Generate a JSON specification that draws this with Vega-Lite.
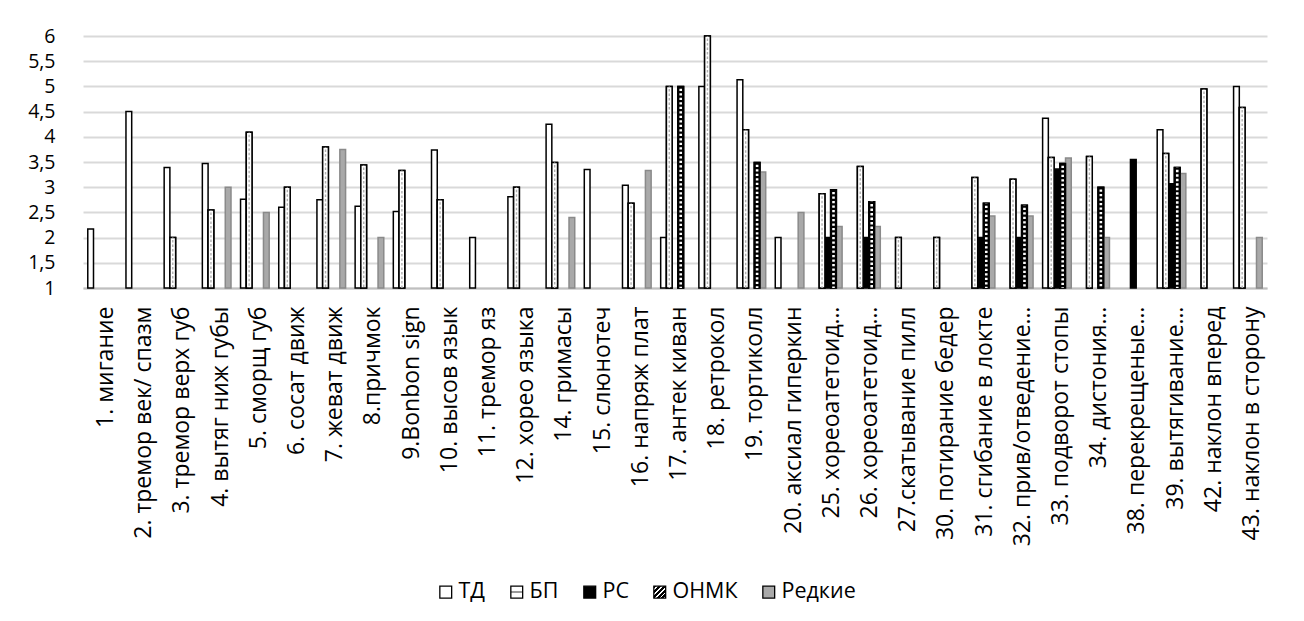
{
  "$schema": "https://vega.github.io/schema/vega-lite/v6.json",
  "width": 1184,
  "height": 252,
  "autosize": {"type": "none"},
  "padding": {"left": 83, "top": 36, "right": 37, "bottom": 333},
  "background": "#ffffff",
  "data": {
    "values": [
      {"cat": "1. мигание", "series": "ТД", "value": 2.17},
      {"cat": "2. тремор век/ спазм", "series": "ТД", "value": 4.5},
      {"cat": "3. тремор верх губ", "series": "ТД", "value": 3.39},
      {"cat": "3. тремор верх губ", "series": "БП", "value": 2.0},
      {"cat": "4. вытяг ниж губы", "series": "ТД", "value": 3.47},
      {"cat": "4. вытяг ниж губы", "series": "БП", "value": 2.55},
      {"cat": "4. вытяг ниж губы", "series": "Редкие", "value": 3.0},
      {"cat": "5. сморщ губ", "series": "ТД", "value": 2.76},
      {"cat": "5. сморщ губ", "series": "БП", "value": 4.09},
      {"cat": "5. сморщ губ", "series": "Редкие", "value": 2.5},
      {"cat": "6. сосат движ", "series": "ТД", "value": 2.6},
      {"cat": "6. сосат движ", "series": "БП", "value": 3.0},
      {"cat": "7. жеват движ", "series": "ТД", "value": 2.75},
      {"cat": "7. жеват движ", "series": "БП", "value": 3.8},
      {"cat": "7. жеват движ", "series": "Редкие", "value": 3.75},
      {"cat": "8.причмок", "series": "ТД", "value": 2.62},
      {"cat": "8.причмок", "series": "БП", "value": 3.44},
      {"cat": "8.причмок", "series": "Редкие", "value": 2.0},
      {"cat": "9.Bonbon sign", "series": "ТД", "value": 2.52},
      {"cat": "9.Bonbon sign", "series": "БП", "value": 3.33},
      {"cat": "10. высов язык", "series": "ТД", "value": 3.74},
      {"cat": "10. высов язык", "series": "БП", "value": 2.75},
      {"cat": "11. тремор яз", "series": "ТД", "value": 2.0},
      {"cat": "12. хорео языка", "series": "ТД", "value": 2.81},
      {"cat": "12. хорео языка", "series": "БП", "value": 3.0},
      {"cat": "14. гримасы", "series": "ТД", "value": 4.25},
      {"cat": "14. гримасы", "series": "БП", "value": 3.49},
      {"cat": "14. гримасы", "series": "Редкие", "value": 2.4},
      {"cat": "15. слюнотеч", "series": "ТД", "value": 3.35},
      {"cat": "16. напряж плат", "series": "ТД", "value": 3.04},
      {"cat": "16. напряж плат", "series": "БП", "value": 2.68},
      {"cat": "16. напряж плат", "series": "Редкие", "value": 3.33},
      {"cat": "17. антек киван", "series": "ТД", "value": 2.0},
      {"cat": "17. антек киван", "series": "БП", "value": 5.0},
      {"cat": "17. антек киван", "series": "ОНМК", "value": 5.0},
      {"cat": "18. ретрокол", "series": "ТД", "value": 5.0},
      {"cat": "18. ретрокол", "series": "БП", "value": 6.0},
      {"cat": "19. тортиколл", "series": "ТД", "value": 5.13},
      {"cat": "19. тортиколл", "series": "БП", "value": 4.14},
      {"cat": "19. тортиколл", "series": "ОНМК", "value": 3.49},
      {"cat": "19. тортиколл", "series": "Редкие", "value": 3.3},
      {"cat": "20. аксиал гиперкин", "series": "ТД", "value": 2.0},
      {"cat": "20. аксиал гиперкин", "series": "Редкие", "value": 2.5},
      {"cat": "25. хореоатетоид…", "series": "БП", "value": 2.87},
      {"cat": "25. хореоатетоид…", "series": "РС", "value": 2.0},
      {"cat": "25. хореоатетоид…", "series": "ОНМК", "value": 2.95},
      {"cat": "25. хореоатетоид…", "series": "Редкие", "value": 2.22},
      {"cat": "26. хореоатетоид…", "series": "БП", "value": 3.41},
      {"cat": "26. хореоатетоид…", "series": "РС", "value": 2.0},
      {"cat": "26. хореоатетоид…", "series": "ОНМК", "value": 2.71},
      {"cat": "26. хореоатетоид…", "series": "Редкие", "value": 2.22},
      {"cat": "27.скатывание пилл", "series": "БП", "value": 2.0},
      {"cat": "30. потирание бедер", "series": "БП", "value": 2.0},
      {"cat": "31. сгибание в локте", "series": "БП", "value": 3.19},
      {"cat": "31. сгибание в локте", "series": "РС", "value": 2.0},
      {"cat": "31. сгибание в локте", "series": "ОНМК", "value": 2.68},
      {"cat": "31. сгибание в локте", "series": "Редкие", "value": 2.43},
      {"cat": "32. прив/отведение…", "series": "БП", "value": 3.16},
      {"cat": "32. прив/отведение…", "series": "РС", "value": 2.0},
      {"cat": "32. прив/отведение…", "series": "ОНМК", "value": 2.64},
      {"cat": "32. прив/отведение…", "series": "Редкие", "value": 2.43},
      {"cat": "33. подворот стопы", "series": "ТД", "value": 4.37},
      {"cat": "33. подворот стопы", "series": "БП", "value": 3.59},
      {"cat": "33. подворот стопы", "series": "РС", "value": 3.36},
      {"cat": "33. подворот стопы", "series": "ОНМК", "value": 3.47},
      {"cat": "33. подворот стопы", "series": "Редкие", "value": 3.58},
      {"cat": "34. дистония…", "series": "БП", "value": 3.61},
      {"cat": "34. дистония…", "series": "ОНМК", "value": 3.0},
      {"cat": "34. дистония…", "series": "Редкие", "value": 2.0},
      {"cat": "38. перекрещеные…", "series": "РС", "value": 3.55},
      {"cat": "39. вытягивание…", "series": "ТД", "value": 4.14},
      {"cat": "39. вытягивание…", "series": "БП", "value": 3.67},
      {"cat": "39. вытягивание…", "series": "РС", "value": 3.07},
      {"cat": "39. вытягивание…", "series": "ОНМК", "value": 3.39},
      {"cat": "39. вытягивание…", "series": "Редкие", "value": 3.27},
      {"cat": "42. наклон вперед", "series": "БП", "value": 4.95},
      {"cat": "43. наклон в сторону", "series": "ТД", "value": 5.0},
      {"cat": "43. наклон в сторону", "series": "БП", "value": 4.58},
      {"cat": "43. наклон в сторону", "series": "Редкие", "value": 2.0}
    ]
  },
  "encoding": {
    "x": {
      "field": "cat",
      "type": "nominal",
      "sort": null,
      "title": null,
      "scale": {"paddingInner": 0.25, "paddingOuter": 0.125},
      "axis": {
        "labelAngle": -90,
        "labelAlign": "right",
        "labelBaseline": "middle",
        "labelPadding": 18,
        "labelOffset": 4,
        "labelFont": "Open Sans",
        "labelFontSize": 23,
        "labelColor": "#000000",
        "labelLimit": 500,
        "ticks": false,
        "grid": false,
        "domainColor": "#bfbfbf",
        "domainWidth": 2
      }
    },
    "xOffset": {
      "field": "series",
      "type": "nominal",
      "scale": {"domain": ["ТД", "БП", "РС", "ОНМК", "Редкие"], "paddingInner": 0, "paddingOuter": 0}
    },
    "y": {
      "field": "value",
      "type": "quantitative",
      "title": null,
      "scale": {"domain": [1, 6], "zero": false, "nice": false},
      "axis": {
        "values": [1, 1.5, 2, 2.5, 3, 3.5, 4, 4.5, 5, 5.5, 6],
        "labelExpr": "replace(toString(datum.value), '.', ',')",
        "domain": false,
        "ticks": false,
        "gridColor": "#d9d9d9",
        "gridWidth": 2,
        "labelPadding": 28,
        "labelFont": "Open Sans",
        "labelFontSize": 19.5,
        "labelColor": "#000000"
      }
    },
    "y2": {"datum": 1}
  },
  "layer": [
    {
      "mark": {"type": "bar", "strokeWidth": 1.5},
      "encoding": {
        "color": {
          "field": "series",
          "type": "nominal",
          "scale": {
            "domain": ["ТД", "БП", "РС", "ОНМК", "Редкие"],
            "range": [
              "#ffffff",
              {"expr": "{gradient: 'linear', x1: 0, y1: 0, x2: 0, y2: 1, stops: [{offset: 0, color: '#ffffff'}, {offset: 0.42, color: '#ffffff'}, {offset: 0.42, color: '#9a9a9a'}, {offset: 0.58, color: '#9a9a9a'}, {offset: 0.58, color: '#ffffff'}, {offset: 1, color: '#ffffff'}]}"},
              "#000000",
              {"expr": "{gradient: 'linear', x1: 0, y1: 0, x2: 1, y2: 1, stops: [{offset: 0, color: '#000000'}, {offset: 0.12, color: '#000000'}, {offset: 0.12, color: '#ffffff'}, {offset: 0.2, color: '#ffffff'}, {offset: 0.2, color: '#000000'}, {offset: 0.32, color: '#000000'}, {offset: 0.32, color: '#ffffff'}, {offset: 0.4, color: '#ffffff'}, {offset: 0.4, color: '#000000'}, {offset: 0.52, color: '#000000'}, {offset: 0.52, color: '#ffffff'}, {offset: 0.6, color: '#ffffff'}, {offset: 0.6, color: '#000000'}, {offset: 0.72, color: '#000000'}, {offset: 0.72, color: '#ffffff'}, {offset: 0.8, color: '#ffffff'}, {offset: 0.8, color: '#000000'}, {offset: 0.92, color: '#000000'}, {offset: 0.92, color: '#ffffff'}, {offset: 1, color: '#ffffff'}]}"},
              "#a9a9a9"
            ]
          },
          "legend": {
            "title": null,
            "orient": "none",
            "direction": "horizontal",
            "legendX": 352,
            "legendY": 545,
            "symbolType": "square",
            "symbolSize": 140,
            "symbolStrokeWidth": 1.3,
            "symbolStrokeColor": "#000000",
            "labelFont": "Open Sans",
            "labelFontSize": 21.5,
            "labelColor": "#000000",
            "labelOffset": 2,
            "columnPadding": 20
          }
        },
        "stroke": {
          "condition": {"test": "datum.series === 'Редкие'", "value": "#8a8a8a"},
          "value": "#000000"
        }
      }
    },
    {
      "transform": [{"filter": "datum.series === 'ОНМК' || datum.series === 'БП'"}],
      "mark": {"type": "bar", "strokeWidth": 1.5, "stroke": "#000000"},
      "encoding": {
        "fill": {
          "condition": {"test": "datum.series === 'ОНМК'", "value": "#000000"},
          "value": "#ffffff"
        }
      }
    },
    {
      "transform": [{"filter": "datum.series === 'ОНМК'"}],
      "mark": {"type": "rule", "stroke": "#ffffff", "strokeWidth": 2.6, "strokeDash": [2.3, 2.2], "strokeDashOffset": 2.2, "strokeCap": "butt"}
    },
    {
      "transform": [{"filter": "datum.series === 'БП'"}],
      "mark": {"type": "rule", "stroke": "#b0b0b0", "strokeWidth": 1.4, "strokeDash": [2.5, 2], "strokeDashOffset": 2, "strokeCap": "butt"}
    }
  ],
  "config": {
    "view": {"stroke": null},
    "font": "Open Sans"
  }
}
